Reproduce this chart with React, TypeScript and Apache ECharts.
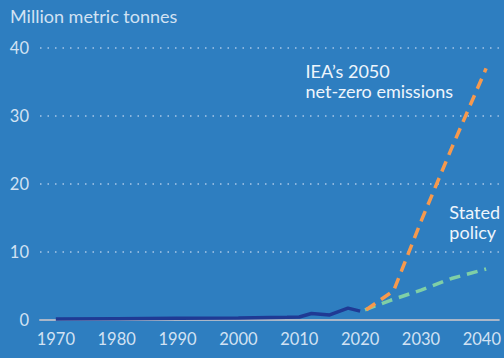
import React, { useEffect, useRef } from "react";
import * as echarts from "echarts";

const yearTicks = [1970, 1980, 1990, 2000, 2010, 2020, 2030, 2040];
const historical: [number, number][] = [
  [1970, 0.15], [1980, 0.2], [1990, 0.25], [2000, 0.3], [2008, 0.4], [2010, 0.45],
  [2012, 0.95], [2015, 0.75], [2018, 1.75], [2020, 1.3],
];
const netZero: [number, number][] = [
  [2021, 1.5], [2025.5, 4.3], [2030, 14.5], [2035, 25.2], [2040.7, 37],
];
const statedPolicy: [number, number][] = [
  [2020.8, 1.5], [2025, 2.9], [2030, 4.4], [2035, 6.1], [2040.7, 7.5],
];

const FONT = "Lato";

export default function App() {
  const ref = useRef<HTMLDivElement>(null);
  useEffect(() => {
    if (!ref.current) return;
    const chart = echarts.init(ref.current, undefined, { renderer: "svg" });
    chart.setOption({
      animation: false,
      backgroundColor: "#2e7ec0",
      grid: { left: 40, right: 4, top: 48, bottom: 38 },
      xAxis: {
        type: "value",
        min: 1967.4,
        max: 2042.8,
        axisLine: { show: true, lineStyle: { color: "#aab6c8", width: 2 } },
        axisTick: { show: false },
        splitLine: { show: false },
        axisLabel: {
          customValues: yearTicks,
          color: "#d2e2f3",
          fontSize: 16.5,
          fontFamily: FONT,
          margin: 10,
          formatter: (v: number) => String(v),
        },
      },
      yAxis: {
        type: "value",
        min: 0,
        max: 40,
        interval: 10,
        axisLine: { show: false },
        axisTick: { show: false },
        axisLabel: { color: "#d2e2f3", fontSize: 16.5, fontFamily: FONT, margin: 11 },
        splitLine: { lineStyle: { type: [1.5, 6], color: "#a9c7e6", width: 1.5 } },
      },
      graphic: [
        {
          type: "text",
          left: 10,
          top: 7,
          style: { text: "Million metric tonnes", fill: "#d2e2f3", fontSize: 18, fontFamily: FONT },
        },
        {
          type: "text",
          right: 51,
          top: 61,
          style: {
            text: "IEA\u2019s 2050\nnet-zero emissions",
            fill: "#eef5fc",
            fontSize: 18,
            fontFamily: FONT,
            align: "right",
            lineHeight: 20,
          },
        },
        {
          type: "text",
          right: 4,
          top: 202,
          style: {
            text: "Stated\npolicy",
            fill: "#eef5fc",
            fontSize: 18,
            fontFamily: FONT,
            align: "right",
            lineHeight: 20,
          },
        },
      ],
      series: [
        {
          type: "line",
          data: historical,
          symbol: "none",
          lineStyle: { color: "#1f3a94", width: 3.5 },
          z: 5,
        },
        {
          type: "line",
          data: statedPolicy,
          symbol: "none",
          lineStyle: { color: "#7fcfa6", width: 3.5, type: [11, 7] },
        },
        {
          type: "line",
          data: netZero,
          symbol: "none",
          lineStyle: { color: "#f6994d", width: 3.5, type: [11, 7] },
        },
      ],
    });
    return () => chart.dispose();
  }, []);
  return (
    <div
      ref={ref}
      style={{ position: "fixed", left: 0, top: 0, width: 504, height: 358 }}
    />
  );
}
